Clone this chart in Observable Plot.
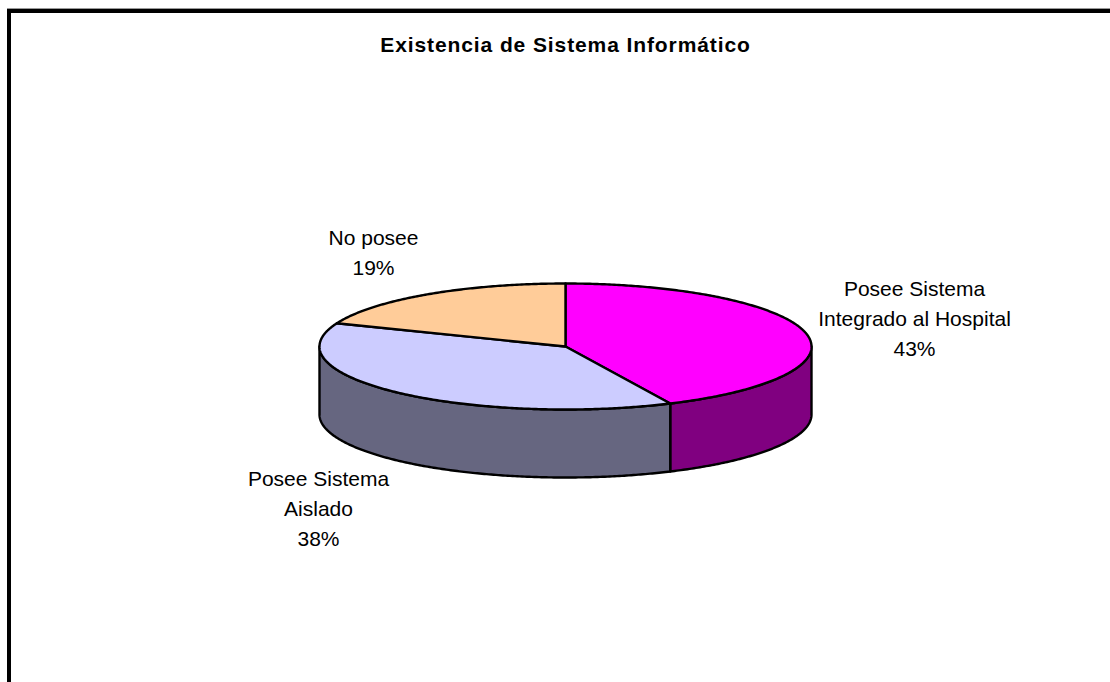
<!DOCTYPE html>
<html><head><meta charset="utf-8">
<script src="https://cdn.jsdelivr.net/npm/d3@7"></script>
<script src="https://cdn.jsdelivr.net/npm/@observablehq/plot@0.6"></script>
<style>
html,body{margin:0;padding:0;background:#fff;overflow:hidden}
svg{display:block}
.chart-title text{letter-spacing:.9px}
</style></head><body>
<div id="chart"></div>
<script>
const chartTitle = "Existencia de Sistema Informático";
const categories = ["Posee Sistema\nIntegrado al Hospital", "Posee Sistema\nAislado", "No posee"];
const shares = [43, 38, 19];
const topColors = ["#FF00FF", "#CCCCFF", "#FFCC99"];
const wallColors = ["#800080", "#666680", "none"];
const labelX = [914, 318, 373];
const labelY = [316, 506, 250];

const W = 1110, H = 682;
const cx = 565, cy = 346, rx = 246, ry = 63, depth = 68;
const total = d3.sum(shares);
const pt = (a, dy = 0) => ({x: cx + rx * Math.sin(a), y: cy - ry * Math.cos(a) + dy});
const arc = (a0, a1, dy = 0) => {
  const n = Math.max(2, Math.ceil((a1 - a0) / 0.01));
  return d3.range(n + 1).map(i => pt(a0 + (a1 - a0) * i / n, dy));
};
let acc = 0;
const slices = shares.map((v, i) => {
  const a0 = acc / total * 2 * Math.PI; acc += v;
  return {i, a0, a1: acc / total * 2 * Math.PI};
});
const topPts = slices.flatMap(s =>
  [{x: cx, y: cy}, ...arc(s.a0, s.a1), {x: cx, y: cy}].map(p => ({...p, i: s.i})));
const wallPts = slices.flatMap(s => {
  const a0 = Math.max(s.a0, Math.PI / 2), a1 = Math.min(s.a1, 3 * Math.PI / 2);
  if (a1 <= a0) return [];
  const p = [...arc(a0, a1), ...arc(a0, a1, depth).reverse()];
  return [...p, p[0]].map(q => ({...q, i: s.i}));
});
const labels = categories.map((c, i) => ({
  text: `${c}\n${shares[i]}%`, x: labelX[i], y: labelY[i]
}));

const plot = Plot.plot({
  width: W, height: H, margin: 0,
  style: {background: "#fff", fontFamily: "'Liberation Sans', Arial, sans-serif"},
  x: {type: "linear", domain: [0, W], range: [0, W], axis: null},
  y: {type: "linear", domain: [0, H], range: [0, H], axis: null},
  marks: [
    Plot.ruleY([8], {x1: 7, x2: W, stroke: "#999", strokeWidth: 1}),
    Plot.ruleY([10.5], {x1: 7, x2: W, stroke: "#000", strokeWidth: 4}),
    Plot.ruleX([8.5], {y1: 9, y2: H, stroke: "#000", strokeWidth: 4}),
    Plot.line(wallPts, {x: "x", y: "y", z: "i", curve: "linear",
      fill: d => wallColors[d.i], stroke: "#000", strokeWidth: 2.4, strokeLinejoin: "round"}),
    Plot.line(topPts, {x: "x", y: "y", z: "i", curve: "linear",
      fill: d => topColors[d.i], stroke: "#000", strokeWidth: 2.4, strokeLinejoin: "round"}),
    Plot.text(labels, {x: "x", y: "y", text: "text", fontSize: 21, fill: "#000",
      textAnchor: "middle", lineAnchor: "middle", lineHeight: 1.43}),
    Plot.text([chartTitle], {x: 565, y: 45, text: d => d, fontSize: 21, fontWeight: "bold",
      fill: "#000", textAnchor: "middle", lineAnchor: "middle", className: "chart-title"})
  ]
});
document.getElementById("chart").append(plot);
</script>
</body></html>
